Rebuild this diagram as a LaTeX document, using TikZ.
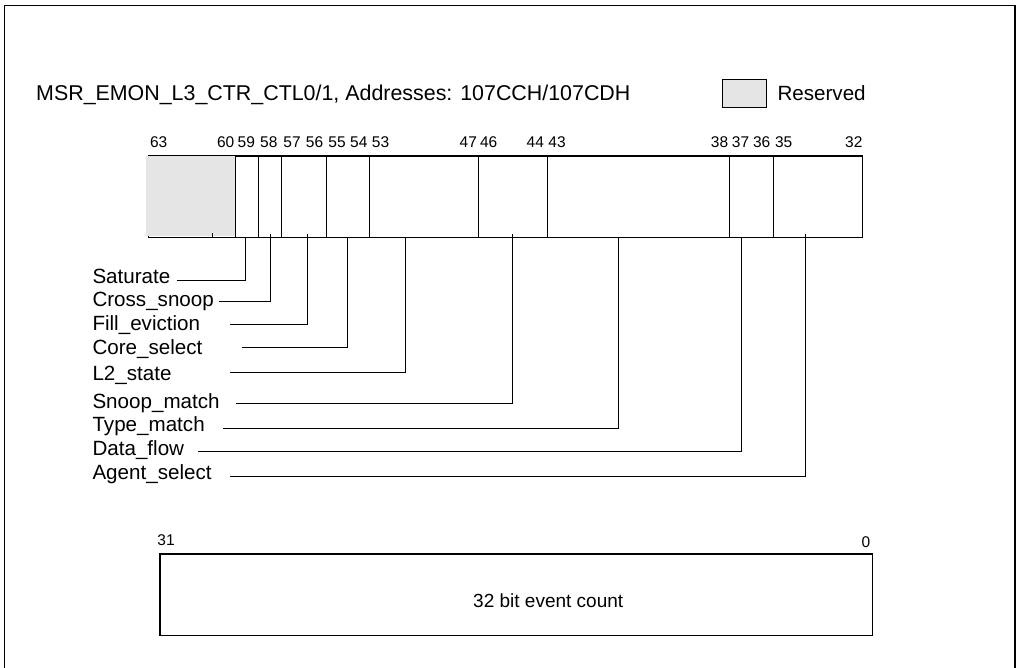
\documentclass[tikz,border=0pt]{standalone}
\usepackage{fontspec}
\setmainfont{Liberation Sans}
\begin{document}
\begin{tikzpicture}[x=1pt,y=-1pt,
  lab/.style={anchor=base west, font=\fontsize{20.6}{24}\selectfont, inner sep=0pt},
  bitnum/.style={anchor=base, font=\fontsize{15.5}{18}\selectfont, inner sep=0pt},
  conn/.style={line width=0.9pt},
  divider/.style={line width=0.9pt},
  thickbox/.style={draw, line width=1.7pt, inner sep=0pt, anchor=north west},
  resfill/.style={fill=gray!20}]
\useasboundingbox (0,0) rectangle (1016,668);
% outer frame (open at the bottom)
\draw[line width=1.3pt] (4.5,668) -- (4.5,5.3) -- (1015,5.3) -- (1015,668);
% title and legend
\node[lab, font=\fontsize{21.4}{25}\selectfont] (title) at (36,100.5) {MSR\_EMON\_L3\_CTR\_CTL0/1, Addresses: 107CCH/107CDH};
\node[draw, resfill, line width=1pt, minimum width=44.6pt, minimum height=28pt, inner sep=0pt, anchor=north west] (legbox) at (721.7,79.3) {};
\node[lab] (legtext) at (777.3,100.7) {Reserved};
% upper register
\node[thickbox, minimum width=714.2pt, minimum height=81.5pt] (reg) at (147.5,155) {};
\fill[resfill] (146.4,155.9) rectangle (235.2,235.6);
\foreach \x in {235.7,258.3,281.7,326.3,369.3,478.7,547.7,729.3,773.3}
  \draw[divider] (\x,155) -- (\x,236.5);
\draw[conn] (212.7,233.5) -- (212.7,236.5);
\foreach \x/\t in {158.7/63,225.7/60,246.3/59,268.8/58,292/57,314.5/56,337/55,358.8/54,380.5/53,468.3/47,488.7/46,535.3/44,557/43,719.5/38,740.5/37,761.7/36,783.7/35,853.8/32}
  \node[bitnum] (n\t) at (\x,147.7) {\t};
% field labels
\node[lab] (sat)   at (92.3,283.3) {Saturate};
\node[lab] (cross) at (92.3,306.7) {Cross\_snoop};
\node[lab] (fill)  at (92.3,330.7) {Fill\_eviction};
\node[lab] (core)  at (92.3,354.3) {Core\_select};
\node[lab] (ltwo)  at (92.3,380)   {L2\_state};
\node[lab] (snoop) at (92.3,408.3) {Snoop\_match};
\node[lab] (type)  at (92.3,431.7) {Type\_match};
\node[lab] (data)  at (92.3,455)   {Data\_flow};
\node[lab] (agent) at (92.3,479.3) {Agent\_select};
% connector ends
\foreach \n/\sx/\sy/\bx/\by in {sat/176.7/280.7/245.7/236.5, cross/219.3/301/270.4/234, fill/230/324/307.5/234, core/242.3/347.7/347.3/236.5, ltwo/230/372/405.5/236.5, snoop/236/403.3/512.3/234, type/223.3/428.3/618.3/236.5, data/198.3/451/741.7/236.5, agent/230/476/805.3/234}{
  \coordinate (\n-s) at (\sx,\sy);
  \coordinate (\n-b) at (\bx,\by);
  \draw[conn] (\n-s) -| (\n-b);
}
% lower register
\node[thickbox, minimum width=712.7pt, minimum height=81.2pt] (cnt) at (159,553.3) {};
\node[bitnum] (n31) at (166,545) {31};
\node[bitnum] (n0) at (866,547.3) {0};
\node[anchor=base west, font=\fontsize{19}{22}\selectfont, inner sep=0pt] (cnttext) at (473,607.3) {32 bit event count};
\end{tikzpicture}
\end{document}
